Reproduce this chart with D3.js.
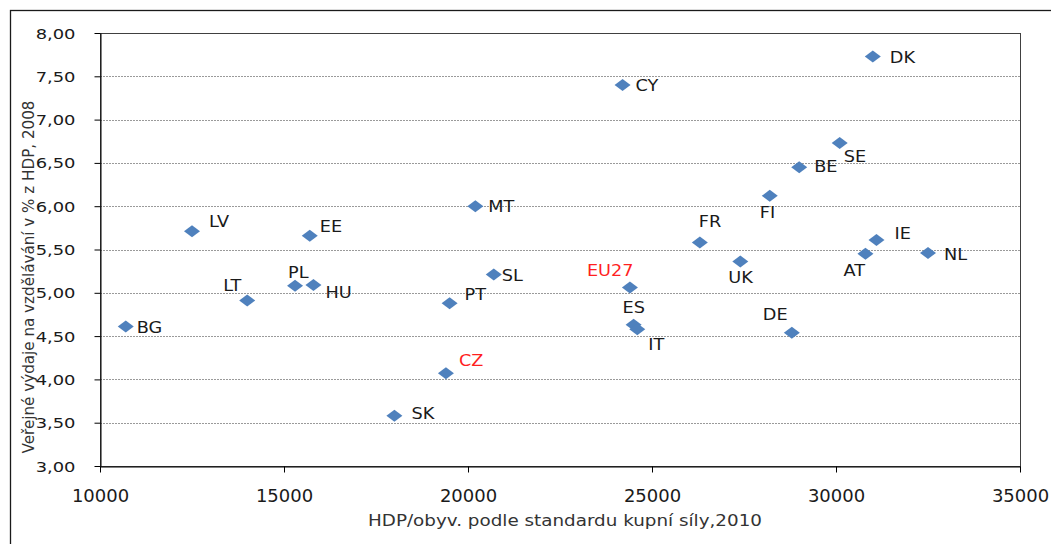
<!DOCTYPE html>
<html>
<head>
<meta charset="utf-8">
<script src="https://cdn.jsdelivr.net/npm/d3@7"></script>
<style>
  body { margin: 0; background: #fff; }
  svg { display: block; }
  text { font-family: "DejaVu Sans", Verdana, sans-serif; }
</style>
</head>
<body>
<svg id="chart" width="1051" height="544"></svg>
<script>
// zeme, HDP/obyv. (PPS 2010) a verejne vydaje na vzdelavani (% HDP 2008)
var countries = ["BG", "LV", "LT", "PL", "HU", "EE", "MT", "SL", "PT", "CZ", "SK", "CY", "DK",
                 "SE", "BE", "FI", "FR", "UK", "IE", "AT", "NL", "EU27", "ES", "IT", "DE"];
var gdp = [10700, 12500, 14000, 15300, 15800, 15700, 20200, 20700, 19500, 19400, 18000, 24200, 31000,
           30100, 29000, 28200, 26300, 27400, 31100, 30800, 32500, 24400, 24500, 24600, 28800];
var spending = [4.61, 5.71, 4.91, 5.08, 5.09, 5.66, 6.00, 5.21, 4.88, 4.07, 3.58, 7.40, 7.73,
                6.73, 6.45, 6.12, 5.58, 5.36, 5.61, 5.45, 5.46, 5.06, 4.63, 4.58, 4.54];
var highlighted = ["CZ", "EU27"];
var xTicks = [10000, 15000, 20000, 25000, 30000, 35000];
var yTicks = [3, 3.5, 4, 4.5, 5, 5.5, 6, 6.5, 7, 7.5, 8];

// umisteni popisku vuci bodu (px)
var labelPos = {
    BG: [11, 6], LV: [17, -4], LT: [-24, -10], PL: [-7, -8], HU: [12, 13], EE: [10, -4],
    MT: [13, 6], SL: [8, 6], PT: [15, -3], CZ: [13, -7], SK: [17, 3], CY: [13, 6],
    DK: [17, 7], SE: [4, 19], BE: [15, 5], FI: [-10, 22], FR: [-1, -16], UK: [-12, 21],
    IE: [18, -1], AT: [-22, 22], NL: [16, 7], EU27: [-43, -12], ES: [-11, -12],
    IT: [11, 21], DE: [-29, -13]
};

var svg = d3.select('#chart');
var plotLeft = 100, plotRight = 1020, plotTop = 33, plotBottom = 466;

var x = d3.scaleLinear().domain([10000, 35000]).range([plotLeft, plotRight]);
var y = d3.scaleLinear().domain([3, 8]).range([plotBottom, plotTop]);

// vnejsi ramecek
svg.append('rect')
    .attr('x', 10.5).attr('y', 10.5)
    .attr('width', 1100).attr('height', 600)
    .attr('fill', 'none')
    .attr('stroke', '#1a1a1a')
    .attr('stroke-width', 1.3);

// mrizka
svg.append('g')
    .selectAll('line')
    .data(yTicks.slice(1, -1))
    .enter()
    .append('line')
    .attr('x1', plotLeft).attr('x2', plotRight)
    .attr('y1', function (d) { return Math.round(y(d)) + 0.5; })
    .attr('y2', function (d) { return Math.round(y(d)) + 0.5; })
    .attr('stroke', '#9a9a9a')
    .attr('stroke-dasharray', '2,1');

// ramecek plochy grafu
svg.append('rect')
    .attr('x', plotLeft + 0.5).attr('y', plotTop + 0.5)
    .attr('width', plotRight - plotLeft).attr('height', plotBottom - plotTop)
    .attr('fill', 'none')
    .attr('stroke', '#404040');

function stretch(sel, sx) {
    sel.attr('transform', function () {
        var t = d3.select(this);
        return 'translate(' + t.attr('x') + ',' + t.attr('y') + ') scale(' + sx + ',1)';
    }).attr('x', null).attr('y', null);
}

// osa x
var xAxis = svg.append('g')
    .attr('transform', 'translate(0,' + (plotBottom + 0.5) + ')')
    .call(d3.axisBottom(x).tickValues(xTicks).tickSize(6).tickSizeOuter(0).tickFormat(d3.format('d')));
xAxis.select('.domain').attr('stroke', '#000');
xAxis.selectAll('.tick line').attr('stroke', '#000');
xAxis.selectAll('.tick text')
    .attr('y', 35).attr('dy', null)
    .attr('fill', '#1a1a1a')
    .style('font-size', '18px');

// osa y
var yAxis = svg.append('g')
    .attr('transform', 'translate(' + (plotLeft + 0.5) + ',0)')
    .call(d3.axisLeft(y).tickValues(yTicks).tickSize(6).tickSizeOuter(0)
        .tickFormat(function (d) { return d3.format('.2f')(d).replace('.', ','); }));
yAxis.select('.domain').attr('stroke', '#000');
yAxis.selectAll('.tick line').attr('stroke', '#000');
yAxis.selectAll('.tick text').remove();
yAxis.selectAll('.tick').append('text')
    .attr('x', -25).attr('y', 5)
    .attr('text-anchor', 'end')
    .attr('fill', '#1a1a1a')
    .style('font-size', '14px')
    .text(function (d) { return d3.format('.2f')(d).replace('.', ','); })
    .call(stretch, 1.28);

// nazvy os
svg.append('text')
    .attr('x', 565).attr('y', 526)
    .attr('text-anchor', 'middle')
    .attr('fill', '#333')
    .attr('textLength', 394)
    .attr('lengthAdjust', 'spacingAndGlyphs')
    .style('font-size', '16px')
    .text('HDP/obyv. podle standardu kupní síly,2010');

svg.append('text')
    .attr('transform', 'translate(34,277) rotate(-90)')
    .attr('text-anchor', 'middle')
    .attr('fill', '#333')
    .attr('textLength', 353)
    .attr('lengthAdjust', 'spacingAndGlyphs')
    .style('font-size', '15px')
    .text('Veřejné výdaje na vzdělávání v % z HDP, 2008');

// body
var points = svg.append('g').attr('class', 'points');
points.selectAll('path')
    .data(countries)
    .enter()
    .append('path')
    .attr('d', 'M0,-6L8,0L0,6L-8,0Z')
    .attr('transform', function (d, i) { return 'translate(' + x(gdp[i]) + ',' + y(spending[i]) + ')'; })
    .attr('fill', '#4f81bd');

// popisky
points.selectAll('text')
    .data(countries)
    .enter()
    .append('text')
    .attr('x', function (d, i) { return x(gdp[i]) + labelPos[d][0]; })
    .attr('y', function (d, i) { return y(spending[i]) + labelPos[d][1]; })
    .attr('fill', function (d) { return highlighted.indexOf(d) >= 0 ? '#ff1f1f' : '#1a1a1a'; })
    .style('font-size', '15px')
    .text(function (d) { return d; })
    .call(stretch, 1.18);
</script>
</body>
</html>
